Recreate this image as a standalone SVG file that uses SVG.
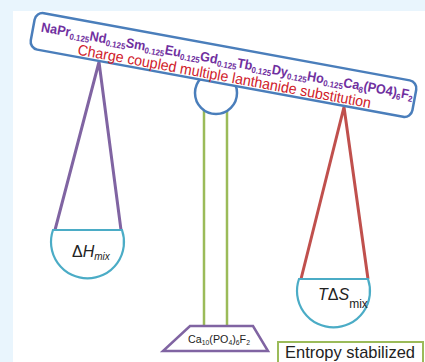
<svg xmlns="http://www.w3.org/2000/svg" width="425" height="362" viewBox="0 0 425 362">
  <style>
    .formula { font-family: "Liberation Sans", "DejaVu Sans", sans-serif; font-weight: bold; fill: #7030a0; }
    .note { font-family: "Liberation Sans", "DejaVu Sans", sans-serif; fill: #d0202a; }
    .label { font-family: "Liberation Sans", "DejaVu Sans", sans-serif; fill: #222; }
    .pan { fill: #fff; stroke: #4bacc6; stroke-width: 2.2; }
    .pole { stroke: #9bbb59; stroke-width: 2.5; fill: none; }
    .string-l { stroke: #8064a2; stroke-width: 3; fill: none; }
    .string-r { stroke: #c0504d; stroke-width: 3; fill: none; }
    .blue { stroke: #4a7ebb; stroke-width: 2.5; fill: #fff; }
  </style>

  <!-- page background -->
  <rect x="0" y="0" width="425" height="362" fill="#e9f5fd"/>
  <rect x="13" y="11" width="412" height="351" fill="#ffffff"/>

  <!-- connectors: stand poles and pan strings -->
  <g id="connectors">
    <line class="pole" x1="204" y1="110" x2="204" y2="326"/>
    <line class="pole" x1="227" y1="110" x2="227" y2="326"/>
    <polyline class="string-l" points="55,230 99,62 121,230"/>
    <polyline class="string-r" points="301,279 344,107 368,279"/>
  </g>

  <!-- pivot -->
  <g id="pivot">
    <circle class="blue" cx="216" cy="93" r="21"/>
  </g>

  <!-- beam with formula -->
  <g id="beam" transform="translate(223.5,65) rotate(10.4)">
    <rect class="blue" x="-194" y="-18.5" width="388" height="37" rx="8"/>
    <text class="formula" x="-186" y="0" font-size="13.5" textLength="378" lengthAdjust="spacingAndGlyphs">NaPr<tspan font-size="8.5" dy="2.5">0.125</tspan><tspan dy="-2.5">Nd</tspan><tspan font-size="8.5" dy="2.5">0.125</tspan><tspan dy="-2.5">Sm</tspan><tspan font-size="8.5" dy="2.5">0.125</tspan><tspan dy="-2.5">Eu</tspan><tspan font-size="8.5" dy="2.5">0.125</tspan><tspan dy="-2.5">Gd</tspan><tspan font-size="8.5" dy="2.5">0.125</tspan><tspan dy="-2.5">Tb</tspan><tspan font-size="8.5" dy="2.5">0.125</tspan><tspan dy="-2.5">Dy</tspan><tspan font-size="8.5" dy="2.5">0.125</tspan><tspan dy="-2.5">Ho</tspan><tspan font-size="8.5" dy="2.5">0.125</tspan><tspan dy="-2.5">Ca</tspan><tspan font-size="8.5" dy="2.5">8</tspan><tspan dy="-2.5">(PO4)</tspan><tspan font-size="8.5" dy="2.5">6</tspan><tspan dy="-2.5">F</tspan><tspan font-size="8.5" dy="2.5">2</tspan></text>
    <text class="note" x="-146" y="16" font-size="15" textLength="298" lengthAdjust="spacingAndGlyphs">Charge coupled multiple lanthanide substitution</text>
  </g>

  <!-- left pan -->
  <g id="pan-enthalpy">
    <path class="pan" d="M53,230 L122,230 A36.5,36.5 0 1 1 53,230 Z"/>
    <text class="label" x="72" y="257" font-size="16">Δ<tspan font-style="italic">H</tspan><tspan font-size="10" font-style="italic" dy="3">mix</tspan></text>
  </g>

  <!-- right pan -->
  <g id="pan-entropy">
    <path class="pan" d="M299,279 L368,279 A36.5,36.5 0 1 1 299,279 Z"/>
    <text class="label" x="318" y="300" font-size="16"><tspan font-style="italic">T</tspan>Δ<tspan font-style="italic">S</tspan><tspan font-size="12" dy="8">mix</tspan></text>
  </g>

  <!-- base -->
  <g id="base">
    <polygon points="190,326 253,326 268,351 163,351" fill="#fff" stroke="#8064a2" stroke-width="2.5"/>
    <text class="label" x="188" y="343" font-size="11" textLength="62" lengthAdjust="spacingAndGlyphs">Ca<tspan font-size="7" dy="2">10</tspan><tspan dy="-2">(PO</tspan><tspan font-size="7" dy="2">4</tspan><tspan dy="-2">)</tspan><tspan font-size="7" dy="2">6</tspan><tspan dy="-2">F</tspan><tspan font-size="7" dy="2">2</tspan></text>
  </g>

  <!-- caption box -->
  <g id="caption">
    <rect x="278" y="342" width="145" height="30" fill="#fff" stroke="#9bbb59" stroke-width="2"/>
    <text class="label" x="285" y="357.5" font-size="17" fill="#111" textLength="130" lengthAdjust="spacingAndGlyphs">Entropy stabilized</text>
  </g>
</svg>
